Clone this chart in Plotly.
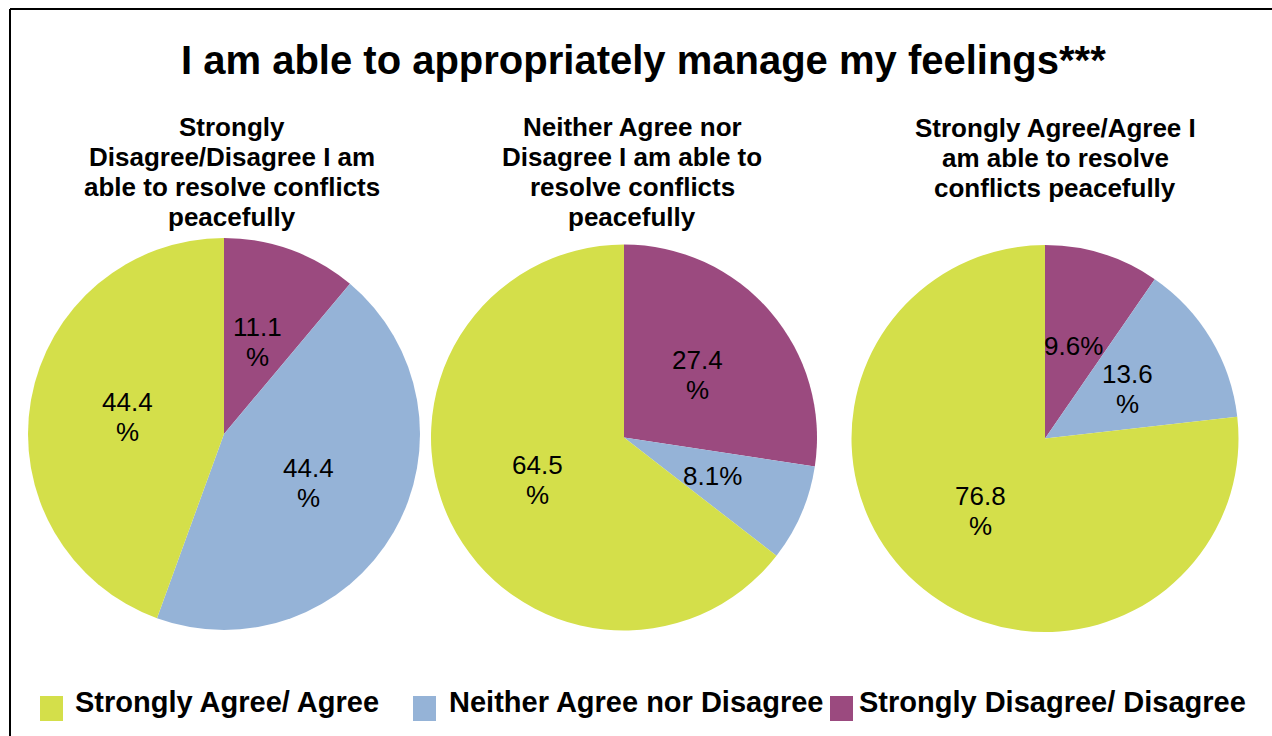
import math
import plotly.graph_objects as go

W, H = 1272, 736

# Response categories and their colours
categories = ["Strongly Agree/ Agree", "Neither Agree nor Disagree", "Strongly Disagree/ Disagree"]
colors = ["#D4DF4A", "#95B3D7", "#9B4A7F"]

# Group headings, one list of lines per pie
group_titles = [
    ["Strongly", "Disagree/Disagree I am", "able to resolve conflicts", "peacefully"],
    ["Neither Agree nor", "Disagree I am able to", "resolve conflicts", "peacefully"],
    ["Strongly Agree/Agree I", "am able to resolve", "conflicts peacefully"],
]

# Percentages per group
agree = [44.4, 64.5, 76.8]
neither = [44.4, 8.1, 13.6]
disagree = [11.1, 27.4, 9.6]

# Pie placement in pixels: centre x, centre y, radius
pie_cx = [224, 624, 1045]
pie_cy = [434, 437.5, 438.5]
pie_r = [196, 193, 193.5]
title_cx = [232, 632, 1055]
title_top = [127, 127, 128]

FONT = "Arial, Liberation Sans, sans-serif"


def px(x):
    return x / W


def py(y):
    return 1 - y / H


fig = go.Figure()
annotations = []
shapes = []

for g in range(3):
    # slices run clockwise from 12 o'clock: disagree, neither, agree
    vals = [disagree[g], neither[g], agree[g]]
    labs = [categories[2], categories[1], categories[0]]
    cols = [colors[2], colors[1], colors[0]]
    cx, cy, r = pie_cx[g], pie_cy[g], pie_r[g]
    fig.add_trace(go.Pie(
        values=vals,
        labels=labs,
        marker=dict(colors=cols, line=dict(width=0)),
        sort=False,
        direction="clockwise",
        rotation=0,
        textinfo="none",
        hoverinfo="label+value",
        showlegend=False,
        domain=dict(x=[px(cx - r), px(cx + r)], y=[py(cy + r), py(cy - r)]),
    ))

    # value labels at half radius along each slice bisector
    total = sum(vals)
    start = 0.0
    for v in vals:
        theta = 2 * math.pi * (start + v / 2) / total
        lx = cx + 0.5 * r * math.sin(theta)
        ly = cy - 0.5 * r * math.cos(theta)
        lines = [f"{v}%"] if v < 10 else [f"{v}", "%"]
        n = len(lines)
        for k, t in enumerate(lines):
            yy = ly + (k - (n - 1) / 2) * 30
            annotations.append(dict(
                x=px(lx), y=py(yy), xref="paper", yref="paper",
                text=t, showarrow=False, xanchor="center", yanchor="middle",
                font=dict(family=FONT, size=26, color="#000000"),
            ))
        start += v

    # group heading
    for k, t in enumerate(group_titles[g]):
        annotations.append(dict(
            x=px(title_cx[g]), y=py(title_top[g] + 30 * k), xref="paper", yref="paper",
            text=f"<b>{t}</b>", showarrow=False, xanchor="center", yanchor="middle",
            font=dict(family=FONT, size=26, color="#000000"),
        ))

# main title
annotations.append(dict(
    x=px(643), y=py(60), xref="paper", yref="paper",
    text="<b>I am able to appropriately manage my feelings***</b>",
    showarrow=False, xanchor="center", yanchor="middle",
    font=dict(family=FONT, size=40, color="#000000"),
))

# legend drawn as swatches plus labels
leg_sq_x = [40, 413, 830]
leg_txt_x = [73, 447, 857]
for i, name in enumerate(categories):
    shapes.append(dict(
        type="rect", xref="paper", yref="paper",
        x0=px(leg_sq_x[i]), x1=px(leg_sq_x[i] + 23),
        y0=py(721), y1=py(696),
        fillcolor=colors[i], line=dict(width=0),
    ))
    annotations.append(dict(
        x=px(leg_txt_x[i]), y=py(702), xref="paper", yref="paper",
        text=f"<b>{name}</b>", showarrow=False, xanchor="left", yanchor="middle",
        font=dict(family=FONT, size=29, color="#000000"),
    ))

# frame lines along top and left
shapes.append(dict(type="line", xref="paper", yref="paper",
                   x0=px(10), x1=1, y0=py(9), y1=py(9),
                   line=dict(color="#000000", width=2)))
shapes.append(dict(type="line", xref="paper", yref="paper",
                   x0=px(10), x1=px(10), y0=py(9), y1=0,
                   line=dict(color="#000000", width=2)))

fig.update_layout(
    width=W, height=H,
    margin=dict(l=0, r=0, t=0, b=0),
    paper_bgcolor="#FFFFFF",
    plot_bgcolor="#FFFFFF",
    annotations=annotations,
    shapes=shapes,
    showlegend=False,
)

fig.write_html("out.html")
